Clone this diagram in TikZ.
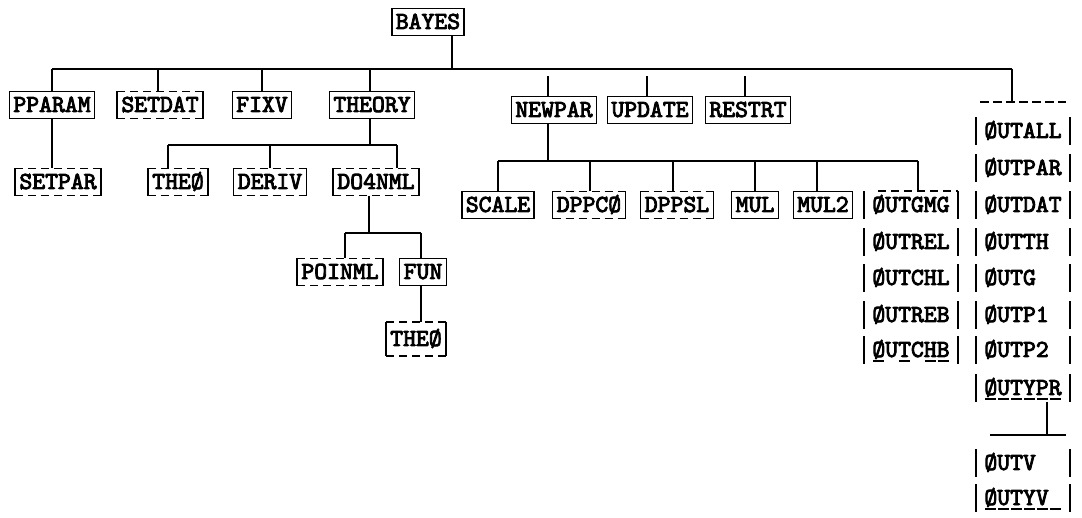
\documentclass[tikz,border=0pt]{standalone}
\usepackage{fontspec}
\newfontfamily\twfont{lmmono10-regular.otf}[FakeBold=3.5]
\newcommand\undl[1]{\setbox0\hbox{#1}\rlap{\kern1pt\rule[-5pt]{\dimexpr\wd0-2pt\relax}{1.6pt}}\box0}
\newcommand\tsp{\hphantom{X}}
\newcommand\dashframe[1]{%
  \draw[frame] (#1.north west) -- (#1.south west);
  \draw[frame] (#1.north east) -- (#1.south east);
  \draw[frame,dash pattern=on 8pt off 5pt] (#1.north west) -- (#1.north east);
  \draw[frame,dash pattern=on 8pt off 5pt] (#1.south west) -- (#1.south east);}
\newcommand\barframe[1]{%
  \draw[frame] (#1.north west) -- (#1.south west);
  \draw[frame] (#1.north east) -- (#1.south east);}
\tikzset{
  lbl/.style={font=\fontsize{24.5}{24.5}\selectfont\twfont, inner xsep=4pt, inner ysep=0pt,
    minimum height=27pt, text height=15pt, text depth=1pt},
  sbox/.style={lbl, draw, line width=1.5pt},
  dbox/.style={lbl},
  obox/.style={lbl, minimum width=94pt},
  frame/.style={line width=1.5pt},
  conn/.style={line width=1.6pt},
}
\begin{document}
\begin{tikzpicture}[x=1pt,y=-1pt]
\useasboundingbox (0,0) rectangle (1082,518);
% root
\node[sbox] (bayes) at (428,22) {BAYES};
\coordinate (mainL) at (52,69);
\coordinate (mainR) at (1012,69);
\coordinate (gapY) at (0,76);
\draw[conn] (mainL) -- (mainR);
\draw[conn] ([xshift=24pt]bayes.south) -- ([xshift=24pt]bayes.south |- mainL);
% level 1
\node[sbox] (pparam) at (52,105) {PPARAM};
\node[dbox] (setdat) at (160,105) {SETDAT}; \dashframe{setdat}
\node[sbox] (fixv) at (262,105) {FIXV};
\node[sbox] (theory) at (372,105) {THEORY};
\node[sbox] (newpar) at (554,110) {NEWPAR};
\node[sbox] (update) at (650,110) {UPDATE};
\node[sbox] (restrt) at (748,110) {RESTRT};
\draw[conn] (pparam.north) -- (pparam.north |- mainL);
\draw[conn] ([xshift=-2pt]setdat.north) -- ([xshift=-2pt]setdat.north |- mainL);
\draw[conn] (fixv.north) -- (fixv.north |- mainL);
\draw[conn] ([xshift=-2pt]theory.north) -- ([xshift=-2pt]theory.north |- mainL);
\draw[conn] ([xshift=-6pt]newpar.north) -- ([xshift=-6pt]newpar.north |- gapY);
\draw[conn] ([xshift=-3pt]update.north) -- ([xshift=-3pt]update.north |- gapY);
\draw[conn] ([xshift=-3pt]restrt.north) -- ([xshift=-3pt]restrt.north |- gapY);
% right output column
\coordinate (obL) at (980,102);
\coordinate (obR) at (1066,102);
\draw[conn] (mainR) -- (mainR |- obL);
\draw[conn,dash pattern=on 9pt off 4pt] (obL) -- (obR);
\node[obox] (outall) at (1023,131) {ØUTALL}; \barframe{outall}
\node[obox] (outpar) at (1023,168) {ØUTPAR}; \barframe{outpar}
\node[obox] (outdat) at (1023,205) {ØUTDAT}; \barframe{outdat}
\node[obox] (outth)  at (1023,242) {ØUTTH\tsp}; \barframe{outth}
\node[obox] (outg)   at (1023,278) {ØUTG\tsp\tsp}; \barframe{outg}
\node[obox] (outp1)  at (1023,315) {ØUTP1\tsp}; \barframe{outp1}
\node[obox] (outp2)  at (1023,350) {ØUTP2\tsp}; \barframe{outp2}
\node[obox] (outypr) at (1023,388) {\undl{Ø}\undl{U}\undl{T}\undl{Y}\undl{P}\undl{R}}; \barframe{outypr}
\coordinate (ybL) at (990,435);
\coordinate (ybR) at (1066,435);
\draw[conn] ([xshift=24pt]outypr.south) -- ([xshift=24pt]outypr.south |- ybL);
\draw[conn] (ybL) -- (ybR);
\node[obox] (outv)   at (1023,463) {ØUTV\tsp\tsp}; \barframe{outv}
\node[obox] (outyv)  at (1023,498) {\undl{Ø}\undl{U}\undl{T}\undl{Y}\undl{V}\undl{\tsp}}; \barframe{outyv}
% THEORY subtree
\coordinate (tbL) at (168,145);
\coordinate (tbR) at (397,145);
\draw[conn] (tbL) -- (tbR);
\draw[conn] ([xshift=-2pt]theory.south) -- ([xshift=-2pt]theory.south |- tbL);
\node[dbox] (setpar) at (58,182) {SETPAR}; \dashframe{setpar}
\draw[conn] (pparam.south) -- (pparam.south |- setpar.north);
\node[dbox] (theoa) at (178,182) {THEØ}; \dashframe{theoa}
\node[dbox] (deriv) at (270,182) {DERIV}; \dashframe{deriv}
\node[dbox] (donml) at (376,182) {DO4NML}; \dashframe{donml}
\draw[conn] (tbL) -- (tbL |- theoa.north);
\draw[conn] (deriv.north) -- (deriv.north |- tbL);
\draw[conn] (tbR) -- (tbR |- donml.north);
\coordinate (dbL) at (345,233);
\coordinate (dbR) at (421,233);
\draw[conn] (dbL) -- (dbR);
\draw[conn] ([xshift=-7pt]donml.south) -- ([xshift=-7pt]donml.south |- dbL);
\node[dbox] (poinml) at (340,272) {POINML}; \dashframe{poinml}
\node[sbox] (fun) at (423,272) {FUN};
\draw[conn] (dbL) -- (dbL |- poinml.north);
\draw[conn] (dbR) -- (dbR |- fun.north);
\node[dbox, minimum height=34pt] (theob) at (416,339) {THEØ}; \dashframe{theob}
\draw[conn] (dbR |- fun.south) -- (dbR |- theob.north);
% NEWPAR subtree
\coordinate (nbL) at (498,161);
\coordinate (nbR) at (918,161);
\draw[conn] (nbL) -- (nbR);
\draw[conn] ([xshift=-6pt]newpar.south) -- ([xshift=-6pt]newpar.south |- nbL);
\node[sbox] (scale) at (498,205) {SCALE};
\node[dbox] (dppco) at (589,205) {DPPCØ}; \dashframe{dppco}
\node[dbox] (dppsl) at (677,205) {DPPSL}; \dashframe{dppsl}
\node[sbox] (mul) at (755,205) {MUL};
\node[sbox] (mulb) at (823,205) {MUL2};
\node[obox] (outgmg) at (911,205) {ØUTGMG}; \barframe{outgmg}
\draw[conn,dash pattern=on 8pt off 5pt] ([xshift=14pt]outgmg.north west) -- (outgmg.north east);
\draw[conn] (nbL) -- (nbL |- scale.north);
\draw[conn] ([xshift=1pt]dppco.north) -- ([xshift=1pt]dppco.north |- nbL);
\draw[conn] ([xshift=-4pt]dppsl.north) -- ([xshift=-4pt]dppsl.north |- nbL);
\draw[conn] (mul.north) -- (mul.north |- nbL);
\draw[conn] ([xshift=-6pt]mulb.north) -- ([xshift=-6pt]mulb.north |- nbL);
\draw[conn] (nbR) -- (nbR |- outgmg.north);
\node[obox] (outrel) at (911,242) {ØUTREL}; \barframe{outrel}
\node[obox] (outchl) at (911,278) {ØUTCHL}; \barframe{outchl}
\node[obox] (outreb) at (911,315) {ØUTREB}; \barframe{outreb}
\node[obox] (outchb) at (911,350) {\undl{Ø}U\undl{T}C\undl{H}\undl{B}}; \barframe{outchb}
\end{tikzpicture}
\end{document}
